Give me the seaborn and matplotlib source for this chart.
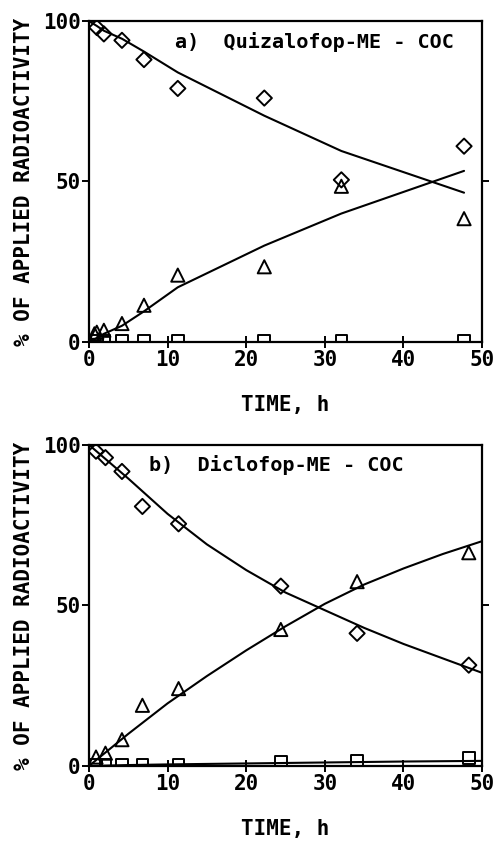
import matplotlib
matplotlib.use("Agg")
import matplotlib.pyplot as plt
import seaborn as sns

sns.set_theme(style="white")
plt.rcParams['font.family'] = ['DejaVu Sans Mono', 'DejaVu Sans']
plt.rcParams['text.color'] = 'black'
plt.rcParams['axes.labelcolor'] = 'black'
plt.rcParams['xtick.color'] = 'black'
plt.rcParams['ytick.color'] = 'black'

# ---- Panel a: Quizalofop-ME - COC ----
a_time = [1.0, 1.9, 4.2, 7.0, 11.3, 22.3, 32.1, 47.7]
a_parent = [98, 96, 94, 88, 79, 76, 50.5, 61]
a_acid = [3.0, 3.6, 5.7, 11.4, 20.8, 23.4, 48.5, 38.4]
a_other = [0.3, 0.3, 0.3, 0.3, 0.3, 0.3, 0.3, 0.3]
a_acid_extra_x = [0.7]
a_acid_extra_y = [2.5]
a_fit_time = [0, 1.0, 1.9, 4.2, 7.0, 11.3, 22.3, 32.1, 47.7]
a_fit_parent = [100, 98.5, 97, 94.5, 90.5, 84, 70.5, 59.5, 46.5]
a_fit_acid = [0, 1.2, 2.5, 5, 9.5, 17, 30, 40, 53.3]

# ---- Panel b: Diclofop-ME - COC ----
b_time = [0.9, 2.1, 4.2, 6.8, 11.4, 24.4, 34.1, 48.3]
b_parent = [98, 96, 91.7, 80.8, 75.4, 56, 41.3, 31.4]
b_acid = [2.8, 4.0, 8.2, 18.9, 24.1, 42.5, 57.4, 66.4]
b_other = [0.5, 0.5, 0.5, 0.5, 0.5, 1.2, 1.7, 2.5]
b_fit_time = [0, 5, 10, 15, 20, 25, 30, 35, 40, 45, 50]
b_fit_parent = [100, 89.5, 78.5, 69, 61, 54, 48.5, 43, 38, 33.5, 29]
b_fit_acid = [0, 10, 19.5, 28, 36, 43.5, 50.5, 56.5, 61.5, 66, 70]
b_fit_other = [0, 0.3, 0.5, 0.65, 0.8, 0.95, 1.1, 1.25, 1.4, 1.5, 1.6]

titles = ["a)  Quizalofop-ME - COC", "b)  Diclofop-ME - COC"]
xticks = [0, 10, 20, 30, 40, 50]
yticks = [0, 50, 100]

fig = plt.figure(figsize=(4.94, 8.44), dpi=100)
ax_a = fig.add_axes([0.180, 0.595, 0.796, 0.380])
ax_b = fig.add_axes([0.180, 0.0924, 0.796, 0.3806])

mk = dict(facecolor="none", edgecolor="black", linewidth=1.4, zorder=3)

def style(ax, title, tx, ty):
    ax.set_xlim(0, 50)
    ax.set_ylim(0, 100)
    ax.set_xticks(xticks)
    ax.set_yticks(yticks)
    ax.set_xticklabels([str(t) for t in xticks], fontsize=15, fontweight="bold")
    ax.set_yticklabels([str(t) for t in yticks], fontsize=15, fontweight="bold")
    for s in ax.spines.values():
        s.set_visible(True)
        s.set_color("black")
        s.set_linewidth(1.6)
    ax.tick_params(axis="x", direction="inout", length=8, width=1.4, bottom=True, top=False, pad=2)
    ax.tick_params(axis="y", direction="out", length=5, width=1.4, left=True, right=False, pad=1)
    ax2 = ax.twinx()
    ax2.set_ylim(0, 100)
    ax2.set_yticks([50])
    ax2.set_yticklabels([])
    ax2.tick_params(axis="y", direction="out", length=5, width=1.4, right=True)
    for s in ax2.spines.values():
        s.set_visible(False)
    ax.set_xlabel("TIME, h", fontsize=15, fontweight="bold", labelpad=18)
    ax.set_ylabel("% OF APPLIED RADIOACTIVITY", fontsize=15, fontweight="bold", labelpad=6)
    ax.text(tx, ty, title, fontsize=14.5, fontweight="bold", ha="left", va="center")

# panel a
sns.lineplot(x=a_fit_time, y=a_fit_parent, ax=ax_a, color="black", linewidth=1.5, sort=False)
sns.lineplot(x=a_fit_time, y=a_fit_acid, ax=ax_a, color="black", linewidth=1.5, sort=False)
sns.scatterplot(x=a_time, y=a_parent, ax=ax_a, marker="D", s=60, **mk)
sns.scatterplot(x=a_time + a_acid_extra_x, y=a_acid + a_acid_extra_y, ax=ax_a, marker="^", s=90, **mk)
sns.scatterplot(x=a_time, y=a_other, ax=ax_a, marker="s", s=70, **mk)
style(ax_a, titles[0], 11.0, 93.5)

# panel b
sns.lineplot(x=b_fit_time, y=b_fit_parent, ax=ax_b, color="black", linewidth=1.5, sort=False)
sns.lineplot(x=b_fit_time, y=b_fit_acid, ax=ax_b, color="black", linewidth=1.5, sort=False)
sns.lineplot(x=b_fit_time, y=b_fit_other, ax=ax_b, color="black", linewidth=1.5, sort=False)
sns.scatterplot(x=b_time, y=b_parent, ax=ax_b, marker="D", s=60, **mk)
sns.scatterplot(x=b_time, y=b_acid, ax=ax_b, marker="^", s=90, **mk)
sns.scatterplot(x=b_time, y=b_other, ax=ax_b, marker="s", s=70, **mk)
style(ax_b, titles[1], 7.6, 93.8)

fig.savefig("out.png", dpi=100)
